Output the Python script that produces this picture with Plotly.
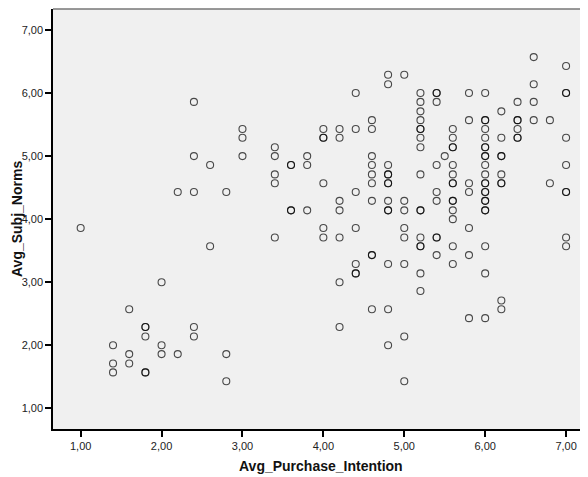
import plotly.graph_objects as go

avg_purchase_intention = (
    [1.0]
    + [1.4] * 3 + [1.6] * 3 + [1.8] * 5 + [2.0] * 3 + [2.2] * 2 + [2.4] * 5
    + [2.6] * 2 + [2.8] * 3 + [3.0] * 3 + [3.4] * 5 + [3.6] * 4 + [3.8] * 3
    + [4.0] * 6 + [4.2] * 7 + [4.4] * 7 + [4.6] * 10 + [4.8] * 13 + [5.0] * 8
    + [5.2] * 16 + [5.4] * 9 + [5.5] * 1 + [5.6] * 14 + [5.8] * 7 + [6.0] * 22
    + [6.2] * 9 + [6.4] * 6 + [6.6] * 4 + [6.8] * 2 + [7.0] * 9
)

avg_subj_norms = [
    3.86,
    2.00, 1.71, 1.57,
    2.57, 1.86, 1.71,
    2.29, 2.29, 2.14, 1.57, 1.57,
    3.00, 2.00, 1.86,
    4.43, 1.86,
    5.86, 5.00, 4.43, 2.29, 2.14,
    4.86, 3.57,
    4.43, 1.86, 1.43,
    5.43, 5.29, 5.00,
    5.14, 5.00, 4.71, 4.57, 3.71,
    4.86, 4.86, 4.14, 4.14,
    5.00, 4.86, 4.14,
    5.43, 5.29, 5.29, 4.57, 3.86, 3.71,
    5.43, 5.29, 4.29, 4.14, 3.71, 3.00, 2.29,
    6.00, 5.43, 4.43, 3.86, 3.29, 3.14, 3.14,
    5.57, 5.43, 5.00, 4.86, 4.71, 4.57, 4.29, 3.43, 3.43, 2.57,
    6.29, 6.14, 4.86, 4.71, 4.71, 4.57, 4.57, 4.29, 4.14, 4.14, 3.29, 2.57, 2.00,
    6.29, 4.29, 4.14, 3.86, 3.71, 3.29, 2.14, 1.43,
    6.00, 5.86, 5.71, 5.57, 5.43, 5.43, 5.29, 5.14, 4.71, 4.14, 4.14, 3.71, 3.57, 3.57, 3.14, 2.86,
    6.00, 6.00, 5.86, 4.86, 4.43, 4.29, 3.71, 3.71, 3.43,
    5.00,
    5.43, 5.29, 5.14, 5.14, 4.86, 4.71, 4.57, 4.57, 4.29, 4.29, 4.14, 4.00, 3.57, 3.29,
    6.00, 5.57, 4.57, 4.43, 3.86, 3.43, 2.43,
    6.00, 5.57, 5.57, 5.43, 5.29, 5.14, 5.14, 5.00, 5.00, 4.86, 4.71, 4.57, 4.57, 4.43, 4.43,
    4.29, 4.29, 4.14, 4.14, 3.57, 3.14, 2.43,
    5.71, 5.29, 5.00, 5.00, 4.71, 4.57, 4.57, 2.71, 2.57,
    5.86, 5.57, 5.57, 5.43, 5.29, 5.29,
    6.57, 6.14, 5.86, 5.57,
    5.57, 4.57,
    6.43, 6.00, 6.00, 5.29, 4.86, 4.43, 4.43, 3.71, 3.57,
]

tick_values = [1, 2, 3, 4, 5, 6, 7]
tick_labels = ["1,00", "2,00", "3,00", "4,00", "5,00", "6,00", "7,00"]

fig = go.Figure()
fig.add_trace(go.Scatter(
    x=avg_purchase_intention,
    y=avg_subj_norms,
    mode="markers",
    marker=dict(symbol="circle-open", size=7, color="black",
                line=dict(width=1.1, color="black"), opacity=0.7),
    hoverinfo="x+y",
))

axis_common = dict(
    showgrid=False, zeroline=False, showline=True, linecolor="black", linewidth=1.5,
    ticks="outside", ticklen=6, tickwidth=1.5, tickcolor="black",
    tickfont=dict(family="Liberation Sans, Arial", size=11, color="#222222"),
    tickvals=tick_values, ticktext=tick_labels,
)

# The page body has an 8px default margin; the figure is sized/margined to compensate.
fig.update_layout(
    width=580, height=469,
    margin=dict(l=45, r=0, t=1, b=48),
    paper_bgcolor="white",
    plot_bgcolor="#f0f0f0",
    showlegend=False,
    xaxis=dict(range=[0.658, 7.271], **axis_common),
    yaxis=dict(range=[0.672, 7.333], **axis_common),
    shapes=[dict(type="line", xref="paper", yref="paper", x0=0, x1=1, y0=1, y1=1,
                 line=dict(color="#777777", width=1.5))],
    annotations=[
        dict(text="<b>Avg_Purchase_Intention</b>", xref="paper", yref="paper",
             x=0.5, y=0, xanchor="center", yanchor="middle", yshift=-37,
             showarrow=False, font=dict(family="Liberation Sans, Arial", size=14, color="#111111")),
        dict(text="<b>Avg_Subj_Norms</b>", xref="paper", yref="paper",
             x=0, y=0.5, xanchor="center", yanchor="middle", xshift=-36, textangle=-90,
             showarrow=False, font=dict(family="Liberation Sans, Arial", size=14, color="#111111")),
    ],
)

fig.write_html("out.html")
